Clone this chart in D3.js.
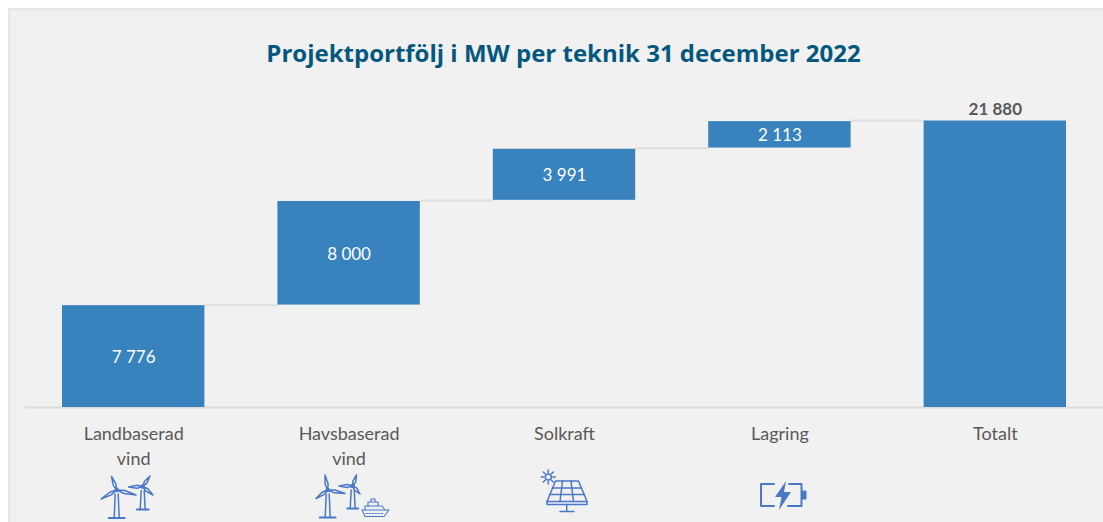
<!DOCTYPE html>
<html>
<head>
<meta charset="utf-8">
<script src="https://cdn.jsdelivr.net/npm/d3@7"></script>
<style>
    html, body { margin: 0; padding: 0; background: #fff; overflow: hidden; }
    svg { display: block; }
</style>
</head>
<body>
<div id="chart"></div>
<script>
// Chart data
const categories = ['Landbaserad vind', 'Havsbaserad vind', 'Solkraft', 'Lagring', 'Totalt'];
const labelLines = [['Landbaserad', 'vind'], ['Havsbaserad', 'vind'], ['Solkraft'], ['Lagring'], ['Totalt']];
const steps = [7776, 8000, 3991, 2113];
const total = 21880;
const chartTitle = 'Projektportfölj i MW per teknik 31 december 2022';

const width = 1103;
const height = 522;
const iconColor = '#4a78c8';
const barColor = '#3882be';

const svg = d3.select('#chart').append('svg')
    .attr('width', width)
    .attr('height', height);

// Panel with the thick light border on top and left
svg.append('rect').attr('x', 8).attr('y', 8).attr('width', width).attr('height', height).attr('fill', '#e6e6e6');
svg.append('rect').attr('x', 10.5).attr('y', 10.5).attr('width', width).attr('height', height).attr('fill', '#f1f1f1');

svg.append('text')
    .attr('x', 563.5)
    .attr('y', 62)
    .attr('text-anchor', 'middle')
    .attr('font-family', '"Open Sans", sans-serif')
    .attr('font-weight', 700)
    .attr('font-size', 24)
    .attr('fill', '#04577f')
    .text(chartTitle);

const x = d3.scaleBand()
    .domain(categories)
    .range([62, 1066])
    .paddingInner(0.339)
    .paddingOuter(0);

const y = d3.scaleLinear()
    .domain([0, total])
    .range([407, 120.5]);

// Build the waterfall: each step starts where the previous one ended
let running = 0;
const bars = steps.map((v, i) => {
    const bar = { name: categories[i], start: running, end: running + v, value: v };
    running += v;
    return bar;
});
bars.push({ name: categories[4], start: 0, end: total, value: total, isTotal: true });

const fmt = d3.formatLocale({ decimal: ',', thousands: ' ', grouping: [3], currency: ['', ''] }).format(',d');

// Baseline
svg.append('line')
    .attr('x1', 25).attr('x2', width)
    .attr('y1', y(0) + 0.5).attr('y2', y(0) + 0.5)
    .attr('stroke', '#dcdcdc')
    .attr('stroke-width', 2);

// Connector lines between the bars
svg.selectAll('line.connector')
    .data(bars.slice(0, -1))
    .enter()
    .append('line')
    .attr('class', 'connector')
    .attr('x1', d => x(d.name) + x.bandwidth())
    .attr('x2', (d, i) => x(bars[i + 1].name))
    .attr('y1', d => y(d.end))
    .attr('y2', d => y(d.end))
    .attr('stroke', '#dedede')
    .attr('stroke-width', 2);

// Floating steps are inset a little so a hairline shows at their ends
const inset = d => (d.isTotal || d.start === 0) ? 0 : 0.6;

svg.selectAll('rect.bar')
    .data(bars)
    .enter()
    .append('rect')
    .attr('class', 'bar')
    .attr('x', d => x(d.name))
    .attr('y', d => y(d.end) + inset(d))
    .attr('width', x.bandwidth())
    .attr('height', d => y(d.start) - y(d.end) - 2 * inset(d))
    .attr('fill', barColor);

// Value labels, white inside the steps and dark above the total
svg.selectAll('text.value')
    .data(bars)
    .enter()
    .append('text')
    .attr('class', 'value')
    .attr('x', d => x(d.name) + x.bandwidth() / 2 + 0.5)
    .attr('y', d => d.isTotal ? y(d.end) - 6 : (y(d.start) + y(d.end)) / 2 + 7)
    .attr('text-anchor', 'middle')
    .attr('font-family', 'Lato, sans-serif')
    .attr('font-size', 17)
    .attr('font-weight', d => d.isTotal ? 700 : 400)
    .attr('fill', d => d.isTotal ? '#595959' : '#ffffff')
    .text(d => fmt(d.value));

// Category labels
const labels = svg.selectAll('text.cat')
    .data(categories)
    .enter()
    .append('text')
    .attr('class', 'cat')
    .attr('text-anchor', 'middle')
    .attr('font-family', 'Lato, sans-serif')
    .attr('font-size', 18)
    .attr('fill', '#595959');

labels.selectAll('tspan')
    .data((d, i) => labelLines[i].map(t => ({ t, c: d })))
    .enter()
    .append('tspan')
    .attr('x', d => x(d.c) + x.bandwidth() / 2 + 0.5)
    .attr('y', (d, i) => 440 + i * 24.5)
    .text(d => d.t);

// Pictograms under the labels
const icons = svg.append('g')
    .attr('fill', 'none')
    .attr('stroke', iconColor)
    .attr('stroke-width', 1.5)
    .attr('stroke-linejoin', 'round')
    .attr('stroke-linecap', 'round');

// One wind turbine: hub, three blade tips, tower bottom
function turbine(hx, hy, tips, bottom, baseW) {
    const g = icons.append('g');
    tips.forEach(t => {
        const dx = t[0] - hx, dy = t[1] - hy;
        const len = Math.hypot(dx, dy);
        const nx = -dy / len * 1.5, ny = dx / len * 1.5;
        g.append('path').attr('d',
            `M${hx},${hy} L${hx + dx * 0.4 + nx},${hy + dy * 0.4 + ny} L${t[0]},${t[1]} L${hx + dx * 0.4 - nx},${hy + dy * 0.4 - ny} Z`);
    });
    g.append('circle').attr('cx', hx).attr('cy', hy).attr('r', 1.5);
    g.append('path').attr('d', `M${hx - 1.5},${hy + 4} L${hx - 2.5},${bottom} M${hx + 1.5},${hy + 4} L${hx + 2.5},${bottom}`);
    g.append('path').attr('d', `M${hx - baseW / 2},${bottom} H${hx + baseW / 2}`).attr('stroke-width', 1.8);
}

turbine(116.7, 490, [[111.5, 476.5], [136, 495], [101, 499]], 518, 16);
turbine(142.7, 486.5, [[150, 476], [128.5, 487], [153, 495]], 509.5, 12);

turbine(327.7, 490, [[325, 475], [345, 493.5], [316, 498.5]], 517.5, 16);
turbine(352.7, 486, [[356.5, 475], [339, 486], [360, 494]], 508.5, 11);

// Ship next to the offshore turbines
const ship = icons.append('g').attr('stroke-width', 1.1);
ship.append('path').attr('d', 'M362,510 H389 L384,516.5 H365 Z');
ship.append('path').attr('d', 'M365,510 V506 H382 L385,510');
ship.append('path').attr('d', 'M368,506 V502 H378 V506 M371,502 V499 H375 V502');
ship.append('path').attr('d', 'M366,513.5 H384').attr('stroke-dasharray', '1.5 1.5');

// Solar panel with sun
const solar = icons.append('g');
solar.append('path').attr('d', 'M555.5,481 H578.5 L587,501.5 H547 Z');
solar.append('path').attr('d', 'M552.5,488 H581.5 M549.5,494.5 H584.5 M562.5,481 L560,501.5 M571,481 L573.5,501.5');
solar.append('path').attr('d', 'M547,504.5 H587 V501.5 M547,504.5 V501.5');
solar.append('path').attr('d', 'M566.7,504.5 V511 M560,511.5 H574');
solar.append('circle').attr('cx', 548.3).attr('cy', 477).attr('r', 3);
d3.range(8).forEach(i => {
    const a = i * Math.PI / 4;
    solar.append('line')
        .attr('x1', 548.3 + Math.cos(a) * 4.5).attr('y1', 477 + Math.sin(a) * 4.5)
        .attr('x2', 548.3 + Math.cos(a) * 7).attr('y2', 477 + Math.sin(a) * 7);
});

// Battery with lightning bolt
const battery = icons.append('g').attr('stroke-width', 2);
battery.append('path').attr('d', 'M774,484 H761 V506 H774');
battery.append('path').attr('d', 'M789,484 H801.5 V506 H788');
battery.append('path')
    .attr('d', 'M786,481 L775,497 H781.5 L779,510 L791,492 H784 Z')
    .attr('fill', iconColor)
    .attr('stroke', 'none');
battery.append('rect')
    .attr('x', 801.5).attr('y', 490.5).attr('width', 5).attr('height', 9)
    .attr('rx', 1)
    .attr('fill', iconColor)
    .attr('stroke', 'none');
</script>
</body>
</html>
